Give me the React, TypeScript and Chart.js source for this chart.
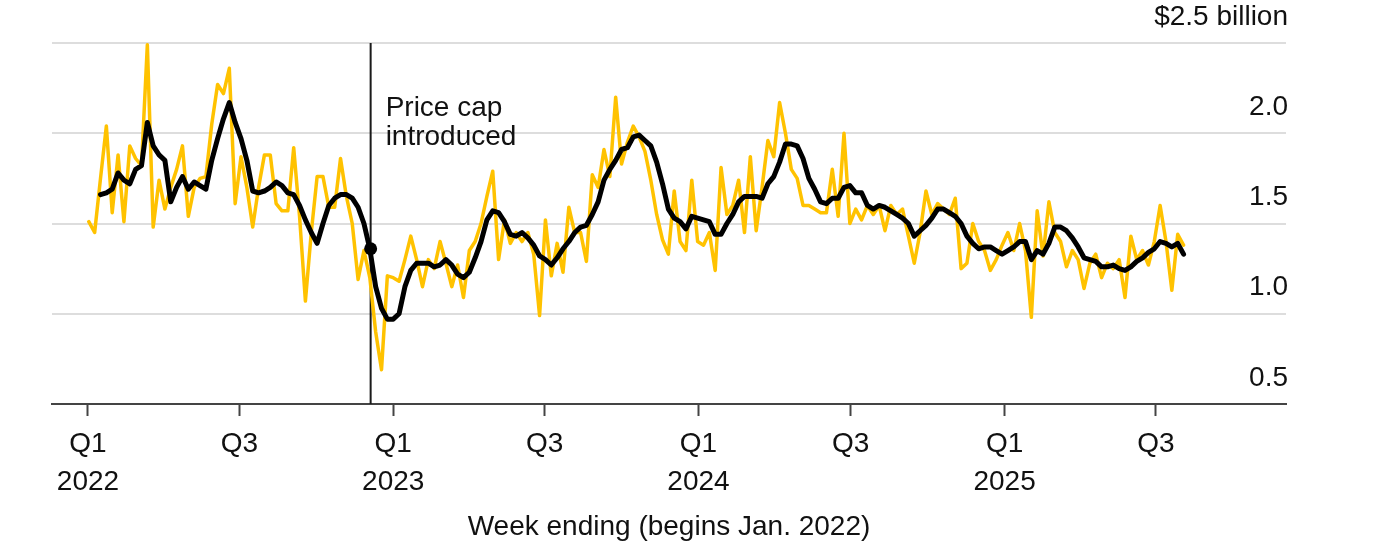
import { useEffect, useRef } from "react";
import { Chart, registerables } from "chart.js";

Chart.register(...registerables);

// ---------- data ----------
// Weekly values ($ billion), week ending Sunday, first week ends 2022-01-02
const FIRST_WEEK_END = "2022-01-02";
const WEEKLY_VALUES = [
  1.51, 1.45, 1.75, 2.04, 1.56, 1.88, 1.51, 1.93, 1.86, 1.82,
  2.49, 1.48, 1.74, 1.58, 1.70, 1.80, 1.93, 1.54, 1.70, 1.75,
  1.76, 2.05, 2.27, 2.22, 2.36, 1.61, 1.87, 1.70, 1.48, 1.70,
  1.88, 1.88, 1.61, 1.57, 1.57, 1.92, 1.54, 1.07, 1.45, 1.76,
  1.76, 1.59, 1.59, 1.86, 1.65, 1.50, 1.19, 1.35, 1.20, 0.90,
  0.69, 1.21, 1.20, 1.18, 1.30, 1.43, 1.30, 1.15, 1.30, 1.25,
  1.40, 1.28, 1.15, 1.27, 1.09, 1.35, 1.40, 1.50, 1.65, 1.79,
  1.30, 1.52, 1.39, 1.45, 1.40, 1.45, 1.33, 0.99, 1.52, 1.21,
  1.39, 1.23, 1.59, 1.45, 1.45, 1.29, 1.77, 1.70, 1.91, 1.76,
  2.20, 1.83, 1.95, 2.04, 1.98, 1.90, 1.74, 1.55, 1.41, 1.33,
  1.68, 1.40, 1.35, 1.74, 1.40, 1.38, 1.45, 1.24, 1.81, 1.55,
  1.60, 1.74, 1.45, 1.87, 1.46, 1.70, 1.96, 1.87, 2.17, 2.00,
  1.80, 1.75, 1.60, 1.60, 1.58, 1.56, 1.56, 1.80, 1.54, 2.00,
  1.50, 1.58, 1.52, 1.60, 1.55, 1.60, 1.46, 1.60, 1.55, 1.58,
  1.43, 1.28, 1.45, 1.68, 1.55, 1.61, 1.58, 1.55, 1.64, 1.25,
  1.28, 1.50, 1.40, 1.35, 1.24, 1.30, 1.38, 1.45, 1.35, 1.50,
  1.35, 0.98, 1.57, 1.32, 1.62, 1.45, 1.40, 1.26, 1.35, 1.30,
  1.14, 1.28, 1.33, 1.20, 1.28, 1.25, 1.30, 1.09, 1.43, 1.30,
  1.35, 1.27, 1.40, 1.60, 1.40, 1.13, 1.44, 1.38,
];

// Moving average line, starts at week index AVERAGE_START
const AVERAGE_START = 2;
const AVERAGE_VALUES = [
  1.66, 1.67, 1.69, 1.78, 1.74, 1.72, 1.80, 1.82, 2.06, 1.93,
  1.88, 1.85, 1.62, 1.70, 1.76, 1.69, 1.73, 1.71, 1.69, 1.85,
  1.97, 2.08, 2.17, 2.06, 1.97, 1.85, 1.68, 1.67, 1.68, 1.70,
  1.73, 1.71, 1.67, 1.66, 1.60, 1.52, 1.45, 1.39, 1.50, 1.60,
  1.64, 1.66, 1.66, 1.64, 1.59, 1.50, 1.36, 1.15, 1.03, 0.97,
  0.97, 1.00, 1.15, 1.24, 1.28, 1.28, 1.28, 1.26, 1.27, 1.30,
  1.27, 1.22, 1.20, 1.23, 1.31, 1.40, 1.52, 1.57, 1.56, 1.51,
  1.44, 1.43, 1.45, 1.42, 1.38, 1.32, 1.30, 1.27, 1.31, 1.36,
  1.40, 1.45, 1.48, 1.49, 1.55, 1.62, 1.74, 1.80, 1.85, 1.91,
  1.92, 1.98, 1.99, 1.96, 1.93, 1.84, 1.72, 1.58, 1.53, 1.51,
  1.47, 1.54, 1.53, 1.52, 1.51, 1.44, 1.44, 1.50, 1.55, 1.62,
  1.65, 1.65, 1.65, 1.64, 1.72, 1.76, 1.84, 1.94, 1.94, 1.93,
  1.86, 1.75, 1.69, 1.62, 1.61, 1.64, 1.64, 1.70, 1.71, 1.67,
  1.67, 1.60, 1.58, 1.60, 1.59, 1.57, 1.55, 1.53, 1.50, 1.43,
  1.46, 1.49, 1.53, 1.58, 1.58, 1.56, 1.54, 1.50, 1.43, 1.39,
  1.36, 1.37, 1.37, 1.35, 1.33, 1.35, 1.37, 1.40, 1.40, 1.30,
  1.35, 1.33, 1.39, 1.48, 1.48, 1.46, 1.42, 1.37, 1.31, 1.30,
  1.29, 1.26, 1.26, 1.27, 1.25, 1.24, 1.26, 1.29, 1.31, 1.34,
  1.36, 1.40, 1.39, 1.37, 1.39, 1.33,
];

const X_TICK_DATES = [
  "2022-01-01", "2022-07-01", "2023-01-01", "2023-07-01",
  "2024-01-01", "2024-07-01", "2025-01-01", "2025-07-01",
];
const X_TICK_LABELS: (string | string[])[] = [
  ["Q1", "2022"], "Q3", ["Q1", "2023"], "Q3",
  ["Q1", "2024"], "Q3", ["Q1", "2025"], "Q3",
];
const X_TITLE = "Week ending (begins Jan. 2022)";

const Y_TICKS = [0.5, 1.0, 1.5, 2.0, 2.5];
const Y_TICK_LABELS = ["0.5", "1.0", "1.5", "2.0", "$2.5 billion"];

const PRICE_CAP_DATE = "2022-12-05";
const PRICE_CAP_VALUE = 1.36;
const PRICE_CAP_TEXT = ["Price cap", "introduced"];

// ---------- helpers ----------
const ORIGIN = Date.UTC(2022, 0, 1);
const DAY_MS = 86400000;
const dayOf = (iso: string) => (Date.parse(iso + "T00:00:00Z") - ORIGIN) / DAY_MS;
const FIRST_DAY = dayOf(FIRST_WEEK_END);
const weekDay = (i: number) => FIRST_DAY + 7 * i;

const FONT = '"Liberation Sans", Arial, Helvetica, sans-serif';
const TEXT = "#111111";

export default function App() {
  const canvasRef = useRef<HTMLCanvasElement | null>(null);

  useEffect(() => {
    document.body.style.margin = "0";
    const canvas = canvasRef.current;
    if (!canvas) return;

    const weekly = WEEKLY_VALUES.map((v, i) => ({ x: weekDay(i), y: v }));
    const average = AVERAGE_VALUES.map((v, i) => ({ x: weekDay(i + AVERAGE_START), y: v }));
    const capDay = dayOf(PRICE_CAP_DATE);
    const tickDays = X_TICK_DATES.map(dayOf);

    const priceCapPlugin = {
      id: "priceCap",
      beforeDatasetsDraw(chart: any) {
        const { ctx, chartArea, scales } = chart;
        const x = scales.x.getPixelForValue(capDay);
        ctx.save();
        ctx.strokeStyle = "#1a1a1a";
        ctx.lineWidth = 2;
        ctx.beginPath();
        ctx.moveTo(x, chartArea.top);
        ctx.lineTo(x, chartArea.bottom);
        ctx.stroke();
        ctx.restore();
      },
      afterDraw(chart: any) {
        const { ctx, scales } = chart;
        const x = scales.x.getPixelForValue(capDay) + 15;
        const y0 = scales.y.getPixelForValue(2.0) - 17;
        ctx.save();
        ctx.font = `28px ${FONT}`;
        ctx.fillStyle = TEXT;
        ctx.textAlign = "left";
        ctx.textBaseline = "alphabetic";
        PRICE_CAP_TEXT.forEach((t, i) => ctx.fillText(t, x, y0 + i * 29));
        ctx.restore();
      },
    };

    const chart = new Chart(canvas, {
      type: "line",
      data: {
        datasets: [
          {
            label: "Price cap",
            data: [{ x: capDay, y: PRICE_CAP_VALUE }],
            showLine: false,
            pointRadius: 6.5,
            pointBackgroundColor: "#000",
            pointBorderWidth: 0,
            order: 0,
          },
          {
            label: "Average",
            data: average,
            borderColor: "#000000",
            borderWidth: 5,
            pointRadius: 0,
            tension: 0,
            borderJoinStyle: "round",
            borderCapStyle: "round",
            order: 1,
          },
          {
            label: "Weekly",
            data: weekly,
            borderColor: "#FFC200",
            borderWidth: 3.5,
            pointRadius: 0,
            tension: 0,
            borderJoinStyle: "round",
            borderCapStyle: "round",
            order: 2,
          },
        ],
      },
      options: {
        animation: false,
        responsive: true,
        maintainAspectRatio: false,
        layout: { padding: { left: 52, top: 43, right: 0, bottom: 0 } },
        plugins: {
          legend: { display: false },
          tooltip: { enabled: false },
        },
        events: [],
        scales: {
          x: {
            type: "linear",
            min: -43,
            max: 1432.5,
            afterBuildTicks: (scale: any) => {
              scale.ticks = tickDays.map((v) => ({ value: v }));
            },
            afterFit: (scale: any) => {
              scale.height = 152;
            },
            ticks: {
              autoSkip: false,
              maxRotation: 0,
              padding: 9,
              color: TEXT,
              font: { family: FONT, size: 28, lineHeight: 38 / 28 },
              callback: (_v: any, i: number) => X_TICK_LABELS[i],
            },
            grid: {
              display: true,
              drawOnChartArea: false,
              drawTicks: true,
              tickLength: 12,
              tickWidth: 2,
              tickColor: "#444444",
            },
            border: { display: true, color: "#444444", width: 2 },
            title: {
              display: true,
              text: X_TITLE,
              color: TEXT,
              font: { family: FONT, size: 28 },
              padding: { top: 0, bottom: 12 },
            },
          },
          y: {
            type: "linear",
            position: "right",
            min: 0.5,
            max: 2.5,
            afterBuildTicks: (scale: any) => {
              scale.ticks = Y_TICKS.map((v) => ({ value: v }));
            },
            afterFit: (scale: any) => {
              scale.width = 114;
            },
            ticks: {
              mirror: true,
              padding: 2,
              labelOffset: -26,
              color: TEXT,
              font: { family: FONT, size: 28 },
              callback: (_v: any, i: number) => Y_TICK_LABELS[i],
            },
            grid: {
              drawTicks: false,
              lineWidth: 2,
              color: (c: any) =>
                c.tick && c.tick.value === 0.5 ? "rgba(0,0,0,0)" : "#dddddd",
            },
            border: { display: false },
          },
        },
      },
      plugins: [priceCapPlugin],
    } as any);

    return () => chart.destroy();
  }, []);

  return (
    <div style={{ position: "relative", width: "1400px", height: "556px" }}>
      <canvas ref={canvasRef} />
    </div>
  );
}
